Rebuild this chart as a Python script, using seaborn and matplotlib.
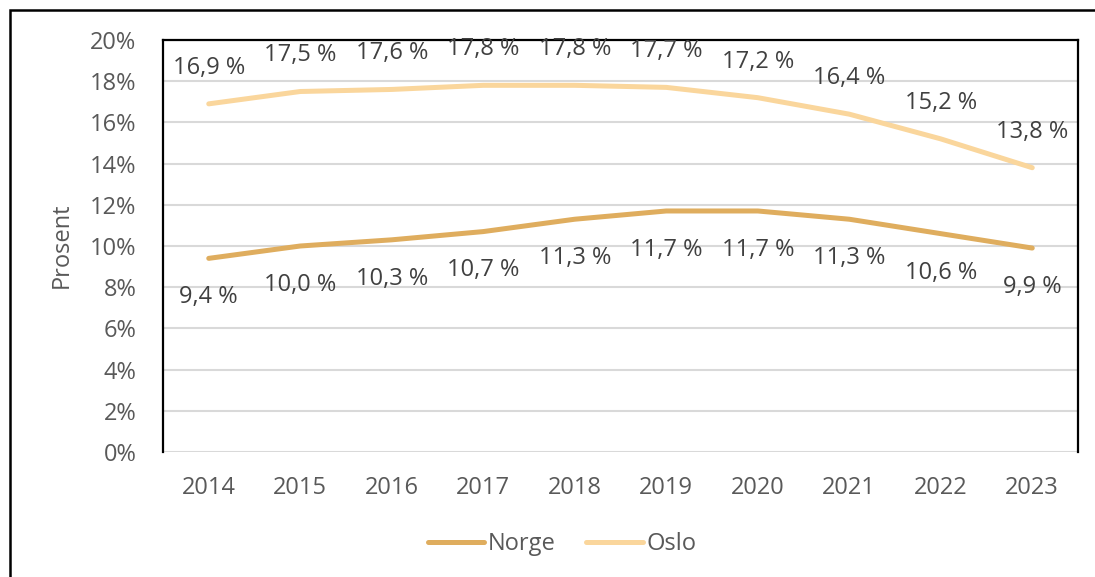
import matplotlib
matplotlib.use("Agg")
import matplotlib.pyplot as plt
import seaborn as sns
import pandas as pd
from matplotlib.patches import Rectangle
from matplotlib.lines import Line2D

years = ["2014", "2015", "2016", "2017", "2018", "2019", "2020", "2021", "2022", "2023"]
norge = [9.4, 10.0, 10.3, 10.7, 11.3, 11.7, 11.7, 11.3, 10.6, 9.9]
oslo = [16.9, 17.5, 17.6, 17.8, 17.8, 17.7, 17.2, 16.4, 15.2, 13.8]
series_names = ["Norge", "Oslo"]
colors = {"Norge": "#DFAD5E", "Oslo": "#FAD69C"}
yticks = [0, 2, 4, 6, 8, 10, 12, 14, 16, 18, 20]

df = pd.DataFrame({
    "År": years * 2,
    "Verdi": norge + oslo,
    "Serie": ["Norge"] * len(years) + ["Oslo"] * len(years),
})

sns.set_theme(style="white")
plt.rcParams["font.family"] = ["Open Sans", "DejaVu Sans"]
text_color = "#595959"

fig = plt.figure(figsize=(10.95, 5.77), dpi=100)
ax = fig.add_axes([163 / 1095, 1 - 452 / 577, (1078 - 163) / 1095, (452 - 40) / 577])

sns.lineplot(data=df, x="År", y="Verdi", hue="Serie", palette=colors, ax=ax,
             linewidth=3.6, legend=False, sort=False)
for line in ax.lines:
    line.set_solid_capstyle("round")

ax.set_xlim(-0.5, len(years) - 0.5)
ax.set_ylim(0, 20)
ax.set_yticks(yticks)
ax.set_yticklabels([f"{v}%" for v in yticks])
ax.yaxis.grid(True, color="#D9D9D9", linewidth=1.5)
ax.set_axisbelow(True)
ax.tick_params(axis="y", length=0, pad=19, labelsize=17, labelcolor=text_color)
ax.tick_params(axis="x", length=0, pad=17, labelsize=17, labelcolor=text_color)
ax.set_xlabel("")
ax.set_ylabel("")

for side in ["left", "top", "right"]:
    ax.spines[side].set_visible(True)
    ax.spines[side].set_color("black")
    ax.spines[side].set_linewidth(1.6)
ax.spines["bottom"].set_visible(False)

def fmt(v):
    return f"{v:.1f}".replace(".", ",") + " %"

for i, v in enumerate(oslo):
    ax.annotate(fmt(v), (i, v), xytext=(0, 26), textcoords="offset points",
                ha="center", va="center", fontsize=17, color="#404040")
for i, v in enumerate(norge):
    ax.annotate(fmt(v), (i, v), xytext=(0, -28), textcoords="offset points",
                ha="center", va="center", fontsize=17, color="#404040")

fig.text(62 / 1095, 1 - 245 / 577, "Prosent", rotation=90, ha="center", va="center",
         fontsize=17, color=text_color)

handles = [Line2D([0], [0], color=colors[n], linewidth=3.6, solid_capstyle="round") for n in series_names]
fig.legend(handles, series_names, loc="center", bbox_to_anchor=(562 / 1095, 1 - 544 / 577),
           ncol=2, frameon=False, fontsize=17, handlelength=2.4, handletextpad=0.15,
           columnspacing=1.3, labelcolor=text_color)

fig.patches.append(Rectangle((10 / 1095, -0.05), 1.2, 1 - 10 / 577 + 0.05,
                             transform=fig.transFigure, fill=False, edgecolor="black",
                             linewidth=1.8, figure=fig))

fig.savefig("out.png", dpi=100)
